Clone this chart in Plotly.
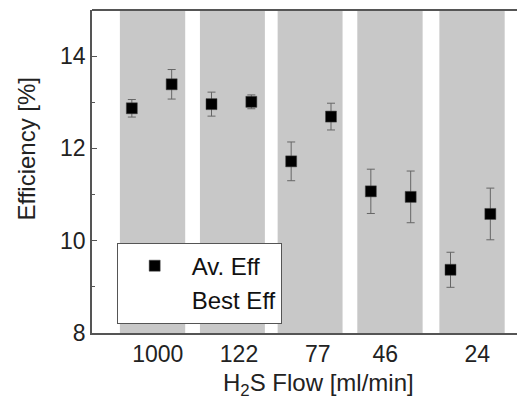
import plotly.graph_objects as go

# ---- data ----
flow_labels = ["1000", "122", "77", "46", "24"]
point_index = [1, 2, 3, 4, 5, 6, 7, 8, 9, 10]
av_eff = [12.87, 13.39, 12.96, 13.01, 11.72, 12.69, 11.07, 10.95, 9.37, 10.58]
av_err = [0.19, 0.32, 0.26, 0.15, 0.42, 0.29, 0.48, 0.56, 0.38, 0.56]

# layout helpers (positions of group bands and group labels on the x scale)
band_edges = [(0.70, 2.34), (2.71, 4.34), (4.66, 6.29), (6.66, 8.30), (8.72, 10.36)]
label_pos = [1.65, 3.69, 5.67, 7.36, 9.67]

FONT = "Liberation Sans, Arial, sans-serif"

fig = go.Figure()

fig.add_trace(go.Scatter(
    x=point_index, y=av_eff, mode="markers", name="Av. Eff",
    marker=dict(symbol="square", size=11, color="black",
                line=dict(width=0.5, color="#444444")),
    error_y=dict(type="data", array=av_err, visible=True,
                 color="#666666", thickness=1, width=4),
))
fig.add_trace(go.Scatter(
    x=[None], y=[None], mode="markers", name="Best Eff",
    marker=dict(symbol="square", size=11, color="rgba(0,0,0,0)"),
))

shapes = []
for a, b in band_edges:
    shapes.append(dict(type="rect", xref="x", yref="paper", x0=a, x1=b,
                       y0=0, y1=1, fillcolor="#c8c8c8", line=dict(width=0),
                       layer="below"))
shapes.append(dict(type="line", xref="paper", yref="paper", x0=0, x1=1,
                   y0=1, y1=1, line=dict(color="#555555", width=2)))

annotations = [
    dict(text="Efficiency [%]", xref="paper", yref="paper",
         x=-0.150, y=0.571, textangle=-90, showarrow=False,
         font=dict(family=FONT, size=24, color="#222222"),
         xanchor="center", yanchor="middle"),
    dict(text="H<sub>2</sub>S Flow [ml/min]", xref="paper", yref="paper",
         x=0.522, y=-0.16, showarrow=False,
         font=dict(family=FONT, size=24, color="#222222"),
         xanchor="center", yanchor="middle"),
]

fig.update_layout(
    width=517, height=398,
    margin=dict(l=84, r=0, t=2, b=73),
    paper_bgcolor="white", plot_bgcolor="white",
    font=dict(family=FONT, size=23, color="#222222"),
    shapes=shapes, annotations=annotations,
    showlegend=True,
    legend=dict(x=0.057, y=0.28, xanchor="left", yanchor="top",
                bordercolor="#555555", borderwidth=1, bgcolor="white",
                font=dict(family=FONT, size=24, color="#111111"),
                itemwidth=64, tracegroupgap=0),
)

fig.update_xaxes(range=[0, 10.87], tickmode="array", tickvals=label_pos,
                 ticktext=flow_labels, showgrid=False, zeroline=False,
                 showline=True, linecolor="#555555", linewidth=1.5,
                 ticks="", tickfont=dict(size=23))
fig.update_yaxes(range=[8, 15], tickmode="array", tickvals=[8, 10, 12, 14],
                 showgrid=False, zeroline=False, showline=True,
                 linecolor="#555555", linewidth=1.5, ticks="inside",
                 ticklen=5, tickcolor="#555555",
                 minor=dict(tickvals=[9, 11, 13], ticks="inside", ticklen=3,
                            tickcolor="#555555"),
                 tickfont=dict(size=23))

fig.write_html("out.html")
